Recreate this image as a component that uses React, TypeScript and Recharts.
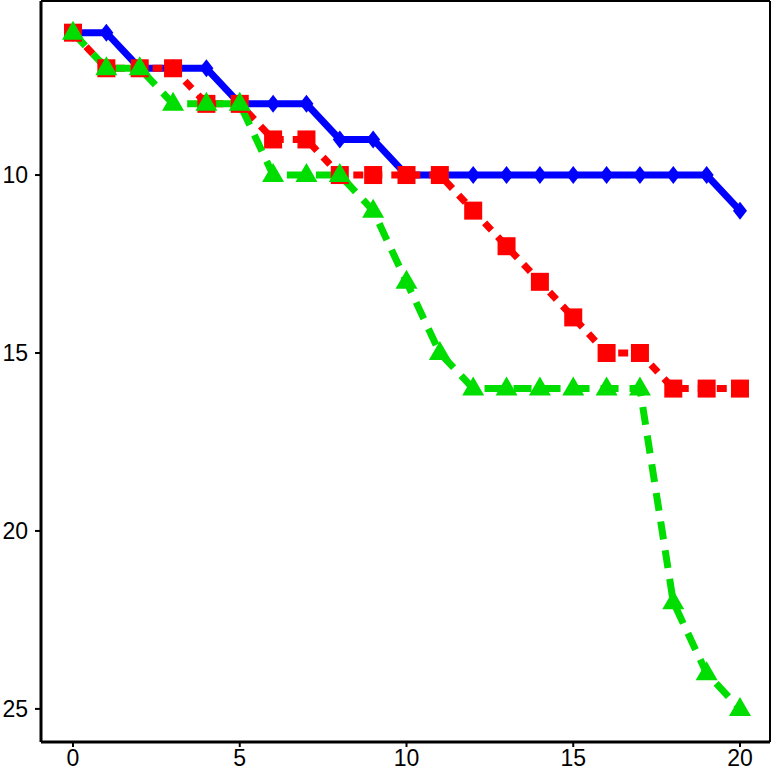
import { LineChart, Line, XAxis, YAxis, ReferenceLine } from "recharts";

// step index along x
const steps = [0, 1, 2, 3, 4, 5, 6, 7, 8, 9, 10, 11, 12, 13, 14, 15, 16, 17, 18, 19, 20];

// series values
const blueValues = [6, 6, 7, 7, 7, 8, 8, 8, 9, 9, 10, 10, 10, 10, 10, 10, 10, 10, 10, 10, 11];
const redValues = [6, 7, 7, 7, 8, 8, 9, 9, 10, 10, 10, 10, 11, 12, 13, 14, 15, 15, 16, 16, 16];
const greenValues = [6, 7, 7, 8, 8, 8, 10, 10, 10, 11, 13, 15, 16, 16, 16, 16, 16, 16, 22, 24, 25];

const xTicks = [0, 5, 10, 15, 20];
const yTicks = [10, 15, 20, 25];
const X_DOMAIN: [number, number] = [-0.96, 20.9];
const Y_DOMAIN: [number, number] = [5.11, 25.93];

const BLUE = "#0000ff";
const RED = "#ff0000";
const GREEN = "#00dd00";

const data = steps.map((x, i) => ({
  x,
  blue: blueValues[i],
  red: redValues[i],
  green: greenValues[i],
}));

const Diamond = ({ cx, cy }: any) => (
  <path d={`M${cx},${cy - 9} L${cx + 7},${cy} L${cx},${cy + 9} L${cx - 7},${cy} Z`} fill={BLUE} />
);

const Square = ({ cx, cy }: any) => (
  <rect x={cx - 9} y={cy - 9} width={18} height={18} fill={RED} />
);

const Triangle = ({ cx, cy }: any) => (
  <path d={`M${cx},${cy - 12} L${cx + 11},${cy + 7} L${cx - 11},${cy + 7} Z`} fill={GREEN} />
);

const FONT = "Liberation Sans, Arial, sans-serif";

const XTick = ({ x, y, payload }: any) => (
  <text x={x} y={y + 17} textAnchor="middle" fontSize={23} fontFamily={FONT} fill="#000">
    {payload.value}
  </text>
);

const YTick = ({ x, y, payload }: any) => (
  <text x={x - 5} y={y + 8} textAnchor="end" fontSize={23} fontFamily={FONT} fill="#000">
    {payload.value}
  </text>
);

export default function App() {
  return (
    <div style={{ position: "absolute", left: 0, top: 0, background: "#fff" }}>
      <LineChart width={772} height={772} data={data} margin={{ top: 1, right: 2, left: 0, bottom: 0 }}>
        <XAxis
          dataKey="x"
          type="number"
          domain={X_DOMAIN}
          ticks={xTicks}
          allowDataOverflow
          height={30}
          tick={<XTick />}
          tickSize={5}
          axisLine={{ stroke: "#000", strokeWidth: 3 }}
          tickLine={{ stroke: "#000", strokeWidth: 2 }}
        />
        <YAxis
          type="number"
          reversed
          domain={Y_DOMAIN}
          ticks={yTicks}
          allowDataOverflow
          width={41}
          tick={<YTick />}
          tickSize={6}
          axisLine={{ stroke: "#000", strokeWidth: 3 }}
          tickLine={{ stroke: "#000", strokeWidth: 2 }}
        />
        <ReferenceLine y={Y_DOMAIN[0]} stroke="#000" strokeWidth={2} ifOverflow="visible" />
        <ReferenceLine x={X_DOMAIN[1]} stroke="#000" strokeWidth={2} ifOverflow="visible" />
        <Line
          dataKey="blue"
          stroke={BLUE}
          strokeWidth={7}
          dot={<Diamond />}
          activeDot={false}
          isAnimationActive={false}
        />
        <Line
          dataKey="red"
          stroke={RED}
          strokeWidth={7}
          strokeDasharray="10 9"
          dot={<Square />}
          activeDot={false}
          isAnimationActive={false}
        />
        <Line
          dataKey="green"
          stroke={GREEN}
          strokeWidth={7}
          strokeDasharray="18 11"
          dot={<Triangle />}
          activeDot={false}
          isAnimationActive={false}
        />
      </LineChart>
    </div>
  );
}
